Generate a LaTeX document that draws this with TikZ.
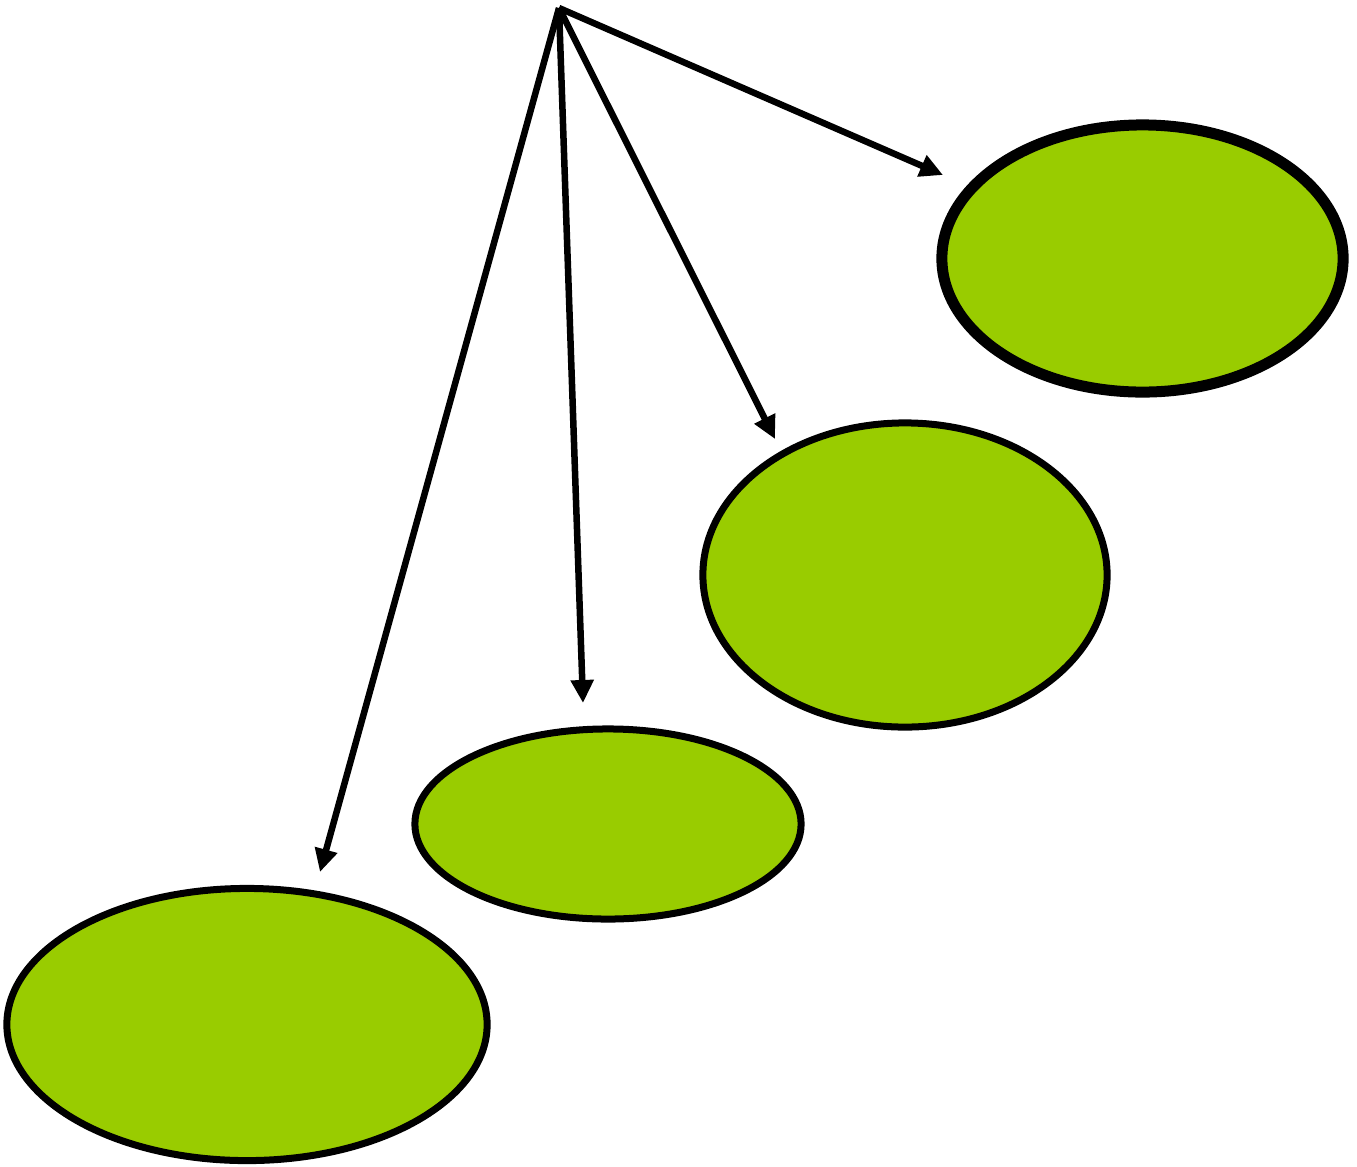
\documentclass[tikz,border=0pt]{standalone}
\usetikzlibrary{shapes.geometric,arrows.meta}
\definecolor{leaf}{HTML}{99CC00}
\tikzset{
  blob/.style={ellipse, draw=black, fill=leaf, inner sep=0pt, line width=0.07cm},
  link/.style={line width=0.065cm, -{Triangle[length=0.23cm,width=0.22cm]}}
}
\begin{document}
\begin{tikzpicture}[x=0.01cm,y=-0.01cm]
\useasboundingbox (0,0) rectangle (1357,1166);
\node[blob, line width=0.11cm, minimum width=4.01cm, minimum height=2.67cm] (e1) at (1142.5,258.5) {};
\node[blob, minimum width=4.04cm, minimum height=3.04cm] (e2) at (905,575) {};
\node[blob, minimum width=3.86cm, minimum height=1.90cm] (e3) at (608,824) {};
\node[blob, minimum width=4.80cm, minimum height=2.72cm] (e4) at (247,1024.5) {};
\coordinate (src) at (559,8);
\coordinate (t1) at (943,175);
\coordinate (t2) at (775,439);
\coordinate (t3) at (583,703);
\coordinate (t4) at (320,872);
\draw[link] (src) -- (t1);
\draw[link] (src) -- (t2);
\draw[link] (src) -- (t3);
\draw[link] (src) -- (t4);
\end{tikzpicture}
\end{document}
